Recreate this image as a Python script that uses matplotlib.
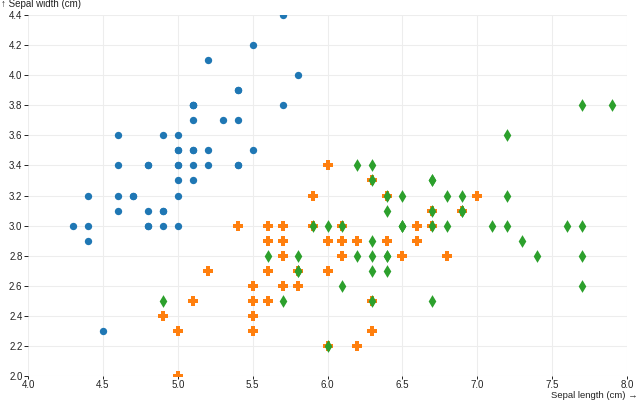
import matplotlib
matplotlib.use('Agg')
import matplotlib.pyplot as plt

plt.rcParams['font.family'] = ['Liberation Sans', 'DejaVu Sans']

setosa_length = [5.1, 4.9, 4.7, 4.6, 5.0, 5.4, 4.6, 5.0, 4.4, 4.9, 5.4, 4.8, 4.8, 4.3, 5.8, 5.7, 5.4,
                 5.1, 5.7, 5.1, 5.4, 5.1, 4.6, 5.1, 4.8, 5.0, 5.0, 5.2, 5.2, 4.7, 4.8, 5.4, 5.2, 5.5,
                 4.9, 5.0, 5.5, 4.9, 4.4, 5.1, 5.0, 4.5, 4.4, 5.0, 5.1, 4.8, 5.1, 4.6, 5.3, 5.0]
setosa_width = [3.5, 3.0, 3.2, 3.1, 3.6, 3.9, 3.4, 3.4, 2.9, 3.1, 3.7, 3.4, 3.0, 3.0, 4.0, 4.4, 3.9,
                3.5, 3.8, 3.8, 3.4, 3.7, 3.6, 3.3, 3.4, 3.0, 3.4, 3.5, 3.4, 3.2, 3.1, 3.4, 4.1, 4.2,
                3.1, 3.2, 3.5, 3.6, 3.0, 3.4, 3.5, 2.3, 3.2, 3.5, 3.8, 3.0, 3.8, 3.2, 3.7, 3.3]

versicolor_length = [7.0, 6.4, 6.9, 5.5, 6.5, 5.7, 6.3, 4.9, 6.6, 5.2, 5.0, 5.9, 6.0, 6.1, 5.6, 6.7,
                     5.6, 5.8, 6.2, 5.6, 5.9, 6.1, 6.3, 6.1, 6.4, 6.6, 6.8, 6.7, 6.0, 5.7, 5.5, 5.5,
                     5.8, 6.0, 5.4, 6.0, 6.7, 6.3, 5.6, 5.5, 5.5, 6.1, 5.8, 5.0, 5.6, 5.7, 5.7, 6.2,
                     5.1, 5.7]
versicolor_width = [3.2, 3.2, 3.1, 2.3, 2.8, 2.8, 3.3, 2.4, 2.9, 2.7, 2.0, 3.0, 2.2, 2.9, 2.9, 3.1,
                    3.0, 2.7, 2.2, 2.5, 3.2, 2.8, 2.5, 2.8, 2.9, 3.0, 2.8, 3.0, 2.9, 2.6, 2.4, 2.4,
                    2.7, 2.7, 3.0, 3.4, 3.1, 2.3, 3.0, 2.5, 2.6, 3.0, 2.6, 2.3, 2.7, 3.0, 2.9, 2.9,
                    2.5, 2.8]

virginica_length = [6.3, 5.8, 7.1, 6.3, 6.5, 7.6, 4.9, 7.3, 6.7, 7.2, 6.5, 6.4, 6.8, 5.7, 5.8, 6.4,
                    6.5, 7.7, 7.7, 6.0, 6.9, 5.6, 7.7, 6.3, 6.7, 7.2, 6.2, 6.1, 6.4, 7.2, 7.4, 7.9,
                    6.4, 6.3, 6.1, 7.7, 6.3, 6.4, 6.0, 6.9, 6.7, 6.9, 5.8, 6.8, 6.7, 6.7, 6.3, 6.5,
                    6.2, 5.9]
virginica_width = [3.3, 2.7, 3.0, 2.9, 3.0, 3.0, 2.5, 2.9, 2.5, 3.6, 3.2, 2.7, 3.0, 2.5, 2.8, 3.2,
                   3.0, 3.8, 2.6, 2.2, 3.2, 2.8, 2.8, 2.7, 3.3, 3.2, 2.8, 3.0, 2.8, 3.0, 2.8, 3.8,
                   2.8, 2.8, 2.6, 3.0, 3.4, 3.1, 3.0, 3.1, 3.1, 3.1, 2.7, 3.2, 3.3, 3.0, 2.5, 3.0,
                   3.4, 3.0]

x_ticks = [4.0, 4.5, 5.0, 5.5, 6.0, 6.5, 7.0, 7.5, 8.0]
y_ticks = [2.0, 2.2, 2.4, 2.6, 2.8, 3.0, 3.2, 3.4, 3.6, 3.8, 4.0, 4.2, 4.4]

W, H = 640, 400
fig = plt.figure(figsize=(W / 100, H / 100), dpi=100)
ax = fig.add_axes([28 / W, 24 / H, (627 - 28) / W, (376 - 15) / H])

ax.scatter(setosa_length, setosa_width, s=28, marker='o', color='#1f77b4', linewidths=0, zorder=3)
ax.scatter(versicolor_length, versicolor_width, s=48, marker='P', color='#ff7f0e', linewidths=0, zorder=3)
ax.scatter(virginica_length, virginica_width, s=42, marker='d', color='#2ca02c', linewidths=0, zorder=3)

ax.set_xlim(4.0, 8.0)
ax.set_ylim(2.0, 4.4)
ax.set_xticks(x_ticks)
ax.set_yticks(y_ticks)
ax.set_xticklabels([f'{v:.1f}' for v in x_ticks])
ax.set_yticklabels([f'{v:.1f}' for v in y_ticks])
ax.grid(True, color='#ededed', linewidth=0.8, zorder=0)
ax.set_axisbelow(True)
for s in ax.spines.values():
    s.set_visible(False)
ax.tick_params(axis='both', labelsize=7, colors='#222222', length=3, width=0.7, pad=1)
ax.tick_params(axis='x', length=2.5, pad=0.5)

fig.text(1 / W, 1 - 4 / H, '↑ Sepal width (cm)', fontsize=7, ha='left', va='center', color='#222222')
fig.text(638 / W, 0, 'Sepal length (cm) →', fontsize=6.8, ha='right', va='bottom', color='#222222')

fig.savefig('out.png', dpi=100)
